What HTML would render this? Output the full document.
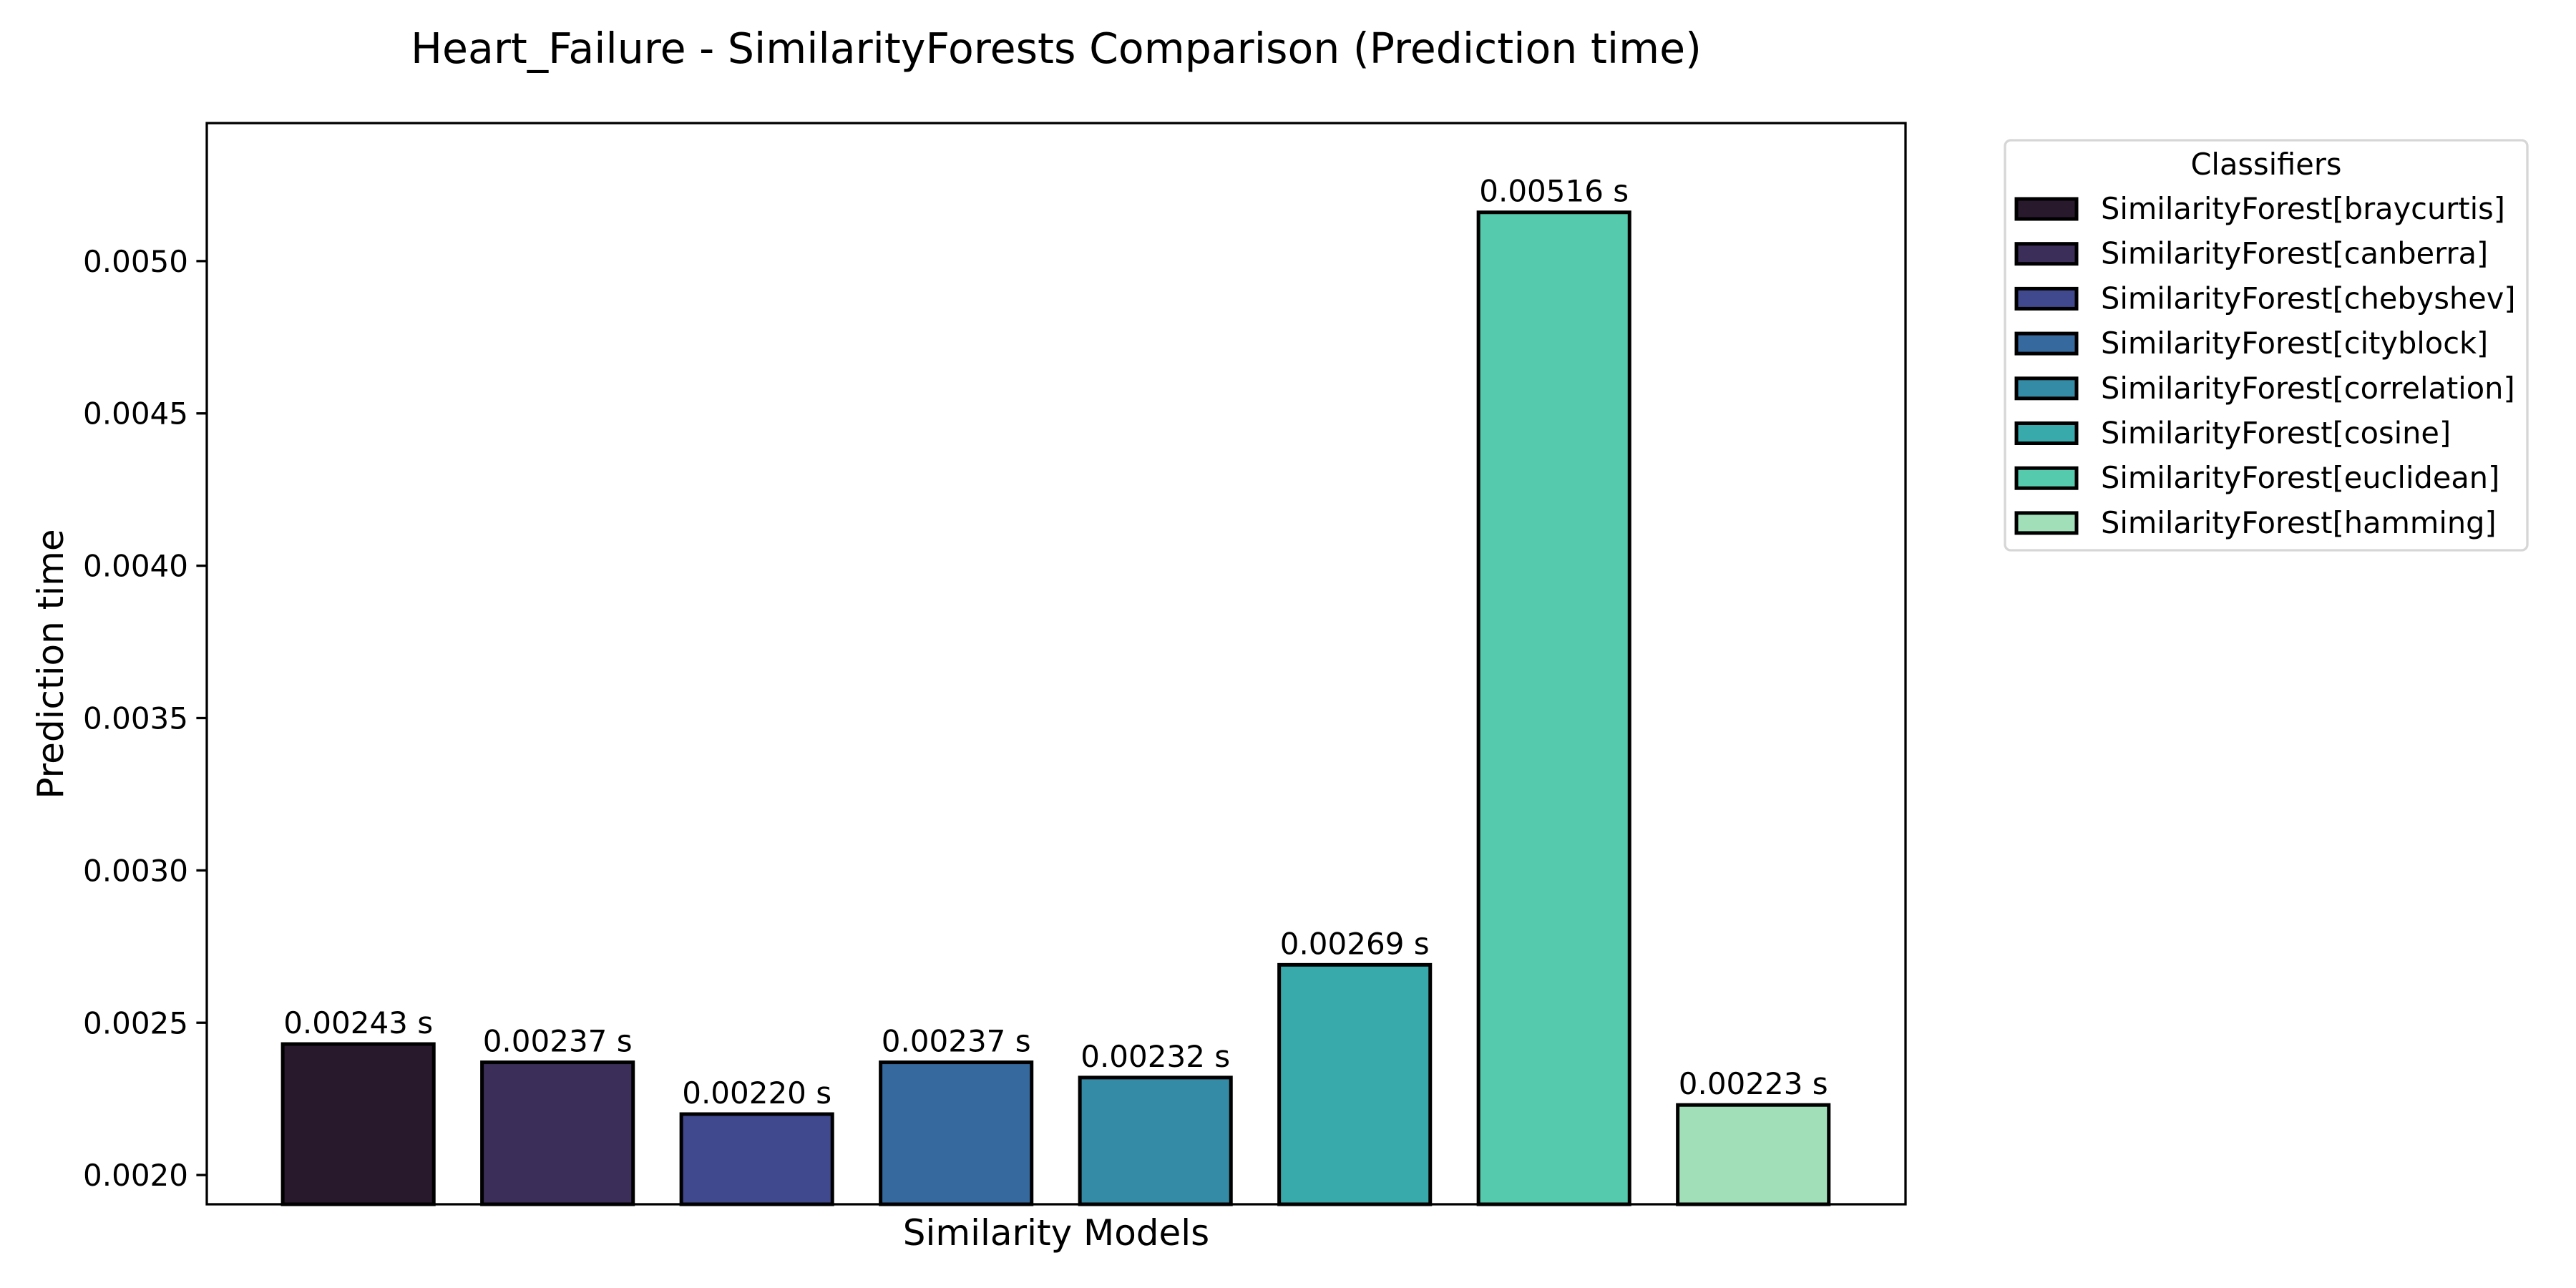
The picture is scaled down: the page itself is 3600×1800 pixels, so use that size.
<!DOCTYPE html>
<html><head><meta charset="utf-8"><style>
html,body{margin:0;padding:0;background:#fff;}
svg{display:block;font-family:"DejaVu Sans","Liberation Sans",sans-serif;}
</style></head><body>
<svg id="chart" width="3600" height="1800" viewBox="0 0 3600 1800" xmlns="http://www.w3.org/2000/svg">
<rect width="3600" height="1800" fill="#fff"/>
<text x="1476" y="88" font-size="58.5" text-anchor="middle">Heart_Failure - SimilarityForests Comparison (Prediction time)</text>
<g id="bars"></g>
<g id="yticks"></g>
<rect x="289" y="172" width="2374" height="1511" fill="none" stroke="#000" stroke-width="3.3"/>
<text x="1476" y="1740" font-size="50" text-anchor="middle">Similarity Models</text>
<text transform="translate(88,928) rotate(-90)" font-size="50" text-anchor="middle">Prediction time</text>
<g id="legend">
<rect x="2802" y="196" width="730" height="573" rx="8" fill="#fff" stroke="#d6d6d6" stroke-width="3.3"/>
<text x="3167" y="244" font-size="41.5" text-anchor="middle">Classifiers</text>
</g>
</svg>
<script>
const categories = ["SimilarityForest[braycurtis]","SimilarityForest[canberra]","SimilarityForest[chebyshev]","SimilarityForest[cityblock]","SimilarityForest[correlation]","SimilarityForest[cosine]","SimilarityForest[euclidean]","SimilarityForest[hamming]"];
const values = [0.00243,0.00237,0.00220,0.00237,0.00232,0.00269,0.00516,0.00223];
const valueLabels = ["0.00243 s","0.00237 s","0.00220 s","0.00237 s","0.00232 s","0.00269 s","0.00516 s","0.00223 s"];
const colors = ["#281a2c","#3b2e58","#40498e","#366a9f","#348ba6","#38aaac","#55caad","#a1dfb9"];
const yTicks = [0.0020,0.0025,0.0030,0.0035,0.0040,0.0045,0.0050];
const yTickLabels = ["0.0020","0.0025","0.0030","0.0035","0.0040","0.0045","0.0050"];

const NS="http://www.w3.org/2000/svg";
const L=289,R=2663,T=172,B=1683;
const yMin=0.001904,yMax=0.005453,xMin=-0.76,xMax=7.764;
function y(v){return B-(v-yMin)/(yMax-yMin)*(B-T);}
function x(i){return L+(i-xMin)/(xMax-xMin)*(R-L);}
const bw=0.758*(R-L)/(xMax-xMin);
function mk(tag,attrs,parent){const e=document.createElementNS(NS,tag);for(const k in attrs)e.setAttribute(k,attrs[k]);parent.appendChild(e);return e;}
const gb=document.getElementById('bars');
values.forEach((v,i)=>{
  const r=mk('rect',{x:x(i)-bw/2,y:y(v),width:bw,height:B-y(v),fill:colors[i],stroke:'#000','stroke-width':5},gb);
  
  
  const t=mk('text',{x:x(i),y:y(v)-15,'font-size':42,'text-anchor':'middle'},gb);
  t.textContent=valueLabels[i];
  
  
});
const gy=document.getElementById('yticks');
yTicks.forEach((v,i)=>{
  const l=mk('line',{x1:L-14.6,x2:L,y1:y(v),y2:y(v),stroke:'#000','stroke-width':3.3},gy);
  
  
  const t=mk('text',{x:L-26,y:y(v)+15,'font-size':42,'text-anchor':'end'},gy);
  t.textContent=yTickLabels[i];
  
  
});
const gl=document.getElementById('legend');
categories.forEach((c,i)=>{
  const cy=292+i*62.7;
  const p=mk('rect',{x:2818,y:cy-14,width:84,height:28,fill:colors[i],stroke:'#000','stroke-width':5},gl);
  
  
  const t=mk('text',{x:2936,y:cy+14,'font-size':41.5},gl);
  t.textContent=c;
  
  
});
</script>
</body></html>
